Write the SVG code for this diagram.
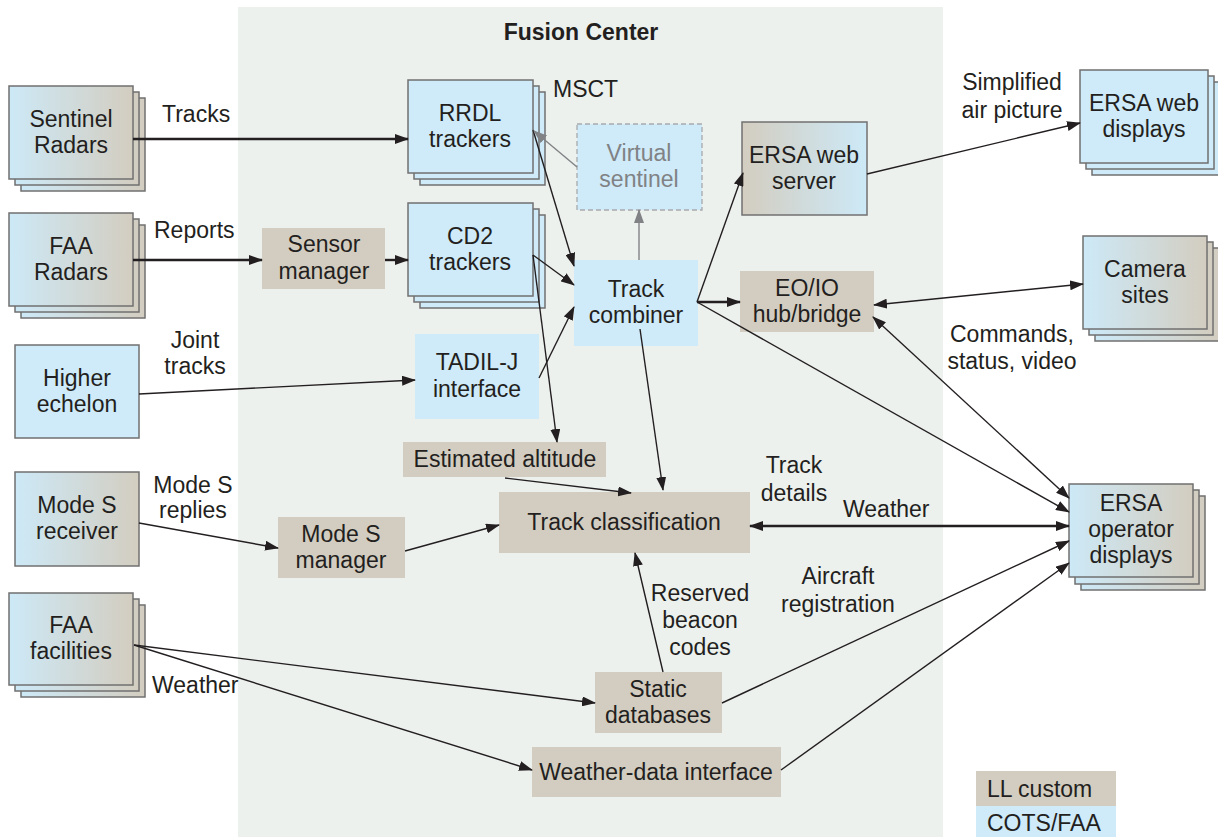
<svg xmlns="http://www.w3.org/2000/svg" width="1218" height="837" viewBox="0 0 1218 837">
<defs>
<linearGradient id="gBT" x1="0" y1="0" x2="1" y2="0"><stop offset="0" stop-color="#CDE9F7"/><stop offset="1" stop-color="#D3CDC0"/></linearGradient>
<linearGradient id="gTB" x1="0" y1="0" x2="1" y2="0"><stop offset="0" stop-color="#D3CDC0"/><stop offset="1" stop-color="#CDE9F7"/></linearGradient>
<marker id="ah" markerWidth="14" markerHeight="10" refX="13" refY="5" orient="auto-start-reverse" markerUnits="userSpaceOnUse"><path d="M0,0 L14,5 L0,10 z" fill="#231f20"/></marker>
<marker id="ahg" markerWidth="14" markerHeight="10" refX="13" refY="5" orient="auto-start-reverse" markerUnits="userSpaceOnUse"><path d="M0,0 L14,5 L0,10 z" fill="#808285"/></marker>
</defs>
<style>
.t{font-family:"Liberation Sans",Arial,sans-serif;font-size:23px;fill:#231f20;text-anchor:middle}
.s{text-anchor:start}
.g{fill:#808285}
.bx{stroke:#707070;stroke-width:1.5}
.blue{fill:#CFEAF8}
.taupe{fill:#D3CDC1}
.grad{fill:url(#gBT)}
.gradr{fill:url(#gTB)}
.c{stroke:#231f20;stroke-width:1.4;fill:none;marker-end:url(#ah)}
.k{stroke-width:2.4}
.b{marker-start:url(#ah)}
.cg{stroke:#808285;stroke-width:1.4;fill:none;marker-end:url(#ahg)}
</style>
<rect x="238" y="7" width="705" height="830" fill="#EDF1EE"/>
<text class="t" x="581" y="40" style="font-weight:bold">Fusion Center</text>

<g id="sentinel-radars">
<rect class="bx grad" x="21" y="98" width="124" height="93"/>
<rect class="bx grad" x="15" y="92" width="124" height="93"/>
<rect class="bx grad" x="9" y="86" width="124" height="93"/>
<text class="t" x="71" y="127">Sentinel</text><text class="t" x="71" y="153">Radars</text>
</g>
<g id="faa-radars">
<rect class="bx grad" x="21" y="225" width="124" height="93"/>
<rect class="bx grad" x="15" y="219" width="124" height="93"/>
<rect class="bx grad" x="9" y="213" width="124" height="93"/>
<text class="t" x="71" y="254">FAA</text><text class="t" x="71" y="280">Radars</text>
</g>
<g id="higher-echelon">
<rect class="bx blue" x="15" y="345" width="124" height="93"/>
<text class="t" x="77" y="386">Higher</text><text class="t" x="77" y="412">echelon</text>
</g>
<g id="mode-s-receiver">
<rect class="bx grad" x="15" y="472" width="124" height="94"/>
<text class="t" x="77" y="513">Mode S</text><text class="t" x="77" y="539">receiver</text>
</g>
<g id="faa-facilities">
<rect class="bx grad" x="21" y="605" width="124" height="92"/>
<rect class="bx grad" x="15" y="599" width="124" height="92"/>
<rect class="bx grad" x="9" y="593" width="124" height="92"/>
<text class="t" x="71" y="633">FAA</text><text class="t" x="71" y="659">facilities</text>
</g>

<g id="rrdl-trackers">
<rect class="bx blue" x="420" y="92" width="125" height="93"/>
<rect class="bx blue" x="414" y="86" width="125" height="93"/>
<rect class="bx blue" x="408" y="80" width="125" height="93"/>
<text class="t" x="470" y="121">RRDL</text><text class="t" x="470" y="147">trackers</text>
</g>
<text class="t s" x="553" y="97">MSCT</text>
<g id="virtual-sentinel">
<rect class="blue" x="577" y="124" width="125" height="86" stroke="#a7aaad" stroke-width="1.3" stroke-dasharray="5 3"/>
<text class="t g" x="639" y="161">Virtual</text><text class="t g" x="639" y="187">sentinel</text>
</g>
<g id="cd2-trackers">
<rect class="bx blue" x="420" y="215" width="125" height="93"/>
<rect class="bx blue" x="414" y="209" width="125" height="93"/>
<rect class="bx blue" x="408" y="203" width="125" height="93"/>
<text class="t" x="470" y="244">CD2</text><text class="t" x="470" y="270">trackers</text>
</g>
<g id="sensor-manager">
<rect class="taupe" x="262" y="228" width="123" height="61"/>
<text class="t" x="324" y="252">Sensor</text><text class="t" x="324" y="279">manager</text>
</g>
<g id="track-combiner">
<rect class="blue" x="574" y="260" width="124" height="86"/>
<text class="t" x="636" y="297">Track</text><text class="t" x="636" y="323">combiner</text>
</g>
<g id="tadil-j">
<rect class="blue" x="415" y="334" width="124" height="85"/>
<text class="t" x="477" y="370">TADIL-J</text><text class="t" x="477" y="397">interface</text>
</g>
<g id="estimated-altitude">
<rect class="taupe" x="403" y="442" width="203" height="35"/>
<text class="t" x="505" y="467">Estimated altitude</text>
</g>
<g id="track-classification">
<rect class="taupe" x="499" y="492" width="251" height="61"/>
<text class="t" x="624" y="530">Track classification</text>
</g>
<g id="mode-s-manager">
<rect class="taupe" x="278" y="517" width="127" height="61"/>
<text class="t" x="341" y="542">Mode S</text><text class="t" x="341" y="568">manager</text>
</g>
<g id="static-databases">
<rect class="taupe" x="595" y="672" width="127" height="61"/>
<text class="t" x="658" y="697">Static</text><text class="t" x="658" y="723">databases</text>
</g>
<g id="weather-data-interface">
<rect class="taupe" x="532" y="747" width="249" height="50"/>
<text class="t" x="656" y="780">Weather-data interface</text>
</g>
<g id="ersa-web-server">
<rect class="bx gradr" x="742" y="122" width="125" height="93"/>
<text class="t" x="804" y="163">ERSA web</text><text class="t" x="804" y="189">server</text>
</g>
<g id="eo-io-hub">
<rect class="taupe" x="740" y="271" width="134" height="61"/>
<text class="t" x="807" y="296">EO/IO</text><text class="t" x="807" y="322">hub/bridge</text>
</g>

<g id="ersa-web-displays">
<rect class="bx blue" x="1092" y="82" width="128" height="93"/>
<rect class="bx blue" x="1086" y="76" width="128" height="93"/>
<rect class="bx blue" x="1080" y="70" width="128" height="93"/>
<text class="t" x="1144" y="111">ERSA web</text><text class="t" x="1144" y="137">displays</text>
</g>
<g id="camera-sites">
<rect class="bx grad" x="1095" y="248" width="124" height="93"/>
<rect class="bx grad" x="1089" y="242" width="124" height="93"/>
<rect class="bx grad" x="1083" y="236" width="124" height="93"/>
<text class="t" x="1145" y="277">Camera</text><text class="t" x="1145" y="303">sites</text>
</g>
<g id="ersa-operator-displays">
<rect class="bx grad" x="1081" y="496" width="124" height="94"/>
<rect class="bx grad" x="1075" y="490" width="124" height="94"/>
<rect class="bx grad" x="1069" y="484" width="124" height="93"/>
<text class="t" x="1131" y="511">ERSA</text><text class="t" x="1131" y="537">operator</text><text class="t" x="1131" y="563">displays</text>
</g>

<g id="legend">
<rect class="taupe" x="976" y="771" width="140" height="35"/>
<text class="t s" x="987" y="797">LL custom</text>
<rect class="blue" x="976" y="806" width="140" height="31"/>
<text class="t s" x="987" y="831">COTS/FAA</text>
</g>

<g id="connectors">
<path class="c k" d="M133,139 L408,139"/>
<path class="c k" d="M133,260 L262,260"/>
<path class="c k" d="M385,260 L408,260"/>
<path class="c" d="M139,394 L415,380"/>
<path class="c" d="M139,523 L278,548"/>
<path class="c" d="M405,551 L499,525"/>
<path class="c" d="M533,130 L574,266"/>
<path class="c" d="M533,255 L574,285"/>
<path class="c" d="M539,378 L574,307"/>
<path class="c" d="M533,255 L557,442"/>
<path class="c" d="M505,478 L631,493"/>
<path class="c" d="M640,329 L663,490"/>
<path class="cg" d="M639,260 L639,210"/>
<path class="cg" d="M577,167 L534,131"/>
<path class="c" d="M697,302 L743,173"/>
<path class="c k" d="M697,302 L740,302"/>
<path class="c" d="M697,302 L1069,512"/>
<path class="c b" d="M873,317 L1069,498"/>
<path class="c k b" d="M750,526 L1069,526"/>
<path class="c" d="M722,703 L1069,541"/>
<path class="c" d="M781,770 L1069,563"/>
<path class="c" d="M663,672 L635,553"/>
<path class="c" d="M134,645 L595,703"/>
<path class="c" d="M134,645 L532,770"/>
<path class="c b" d="M874,305 L1083,284"/>
<path class="c" d="M867,174 L1080,123"/>
</g>

<g id="labels">
<text class="t s" x="162" y="122">Tracks</text>
<text class="t s" x="154" y="238">Reports</text>
<text class="t" x="195" y="348">Joint</text><text class="t" x="195" y="374">tracks</text>
<text class="t" x="193" y="493">Mode S</text><text class="t" x="193" y="518">replies</text>
<text class="t s" x="152" y="693">Weather</text>
<text class="t" x="1012" y="90">Simplified</text><text class="t" x="1012" y="118">air picture</text>
<text class="t" x="1012" y="342">Commands,</text><text class="t" x="1012" y="369">status, video</text>
<text class="t" x="794" y="473">Track</text><text class="t" x="794" y="501">details</text>
<text class="t s" x="843" y="517">Weather</text>
<text class="t" x="838" y="584">Aircraft</text><text class="t" x="838" y="612">registration</text>
<text class="t" x="700" y="601">Reserved</text><text class="t" x="700" y="628">beacon</text><text class="t" x="700" y="655">codes</text>
</g>
</svg>
